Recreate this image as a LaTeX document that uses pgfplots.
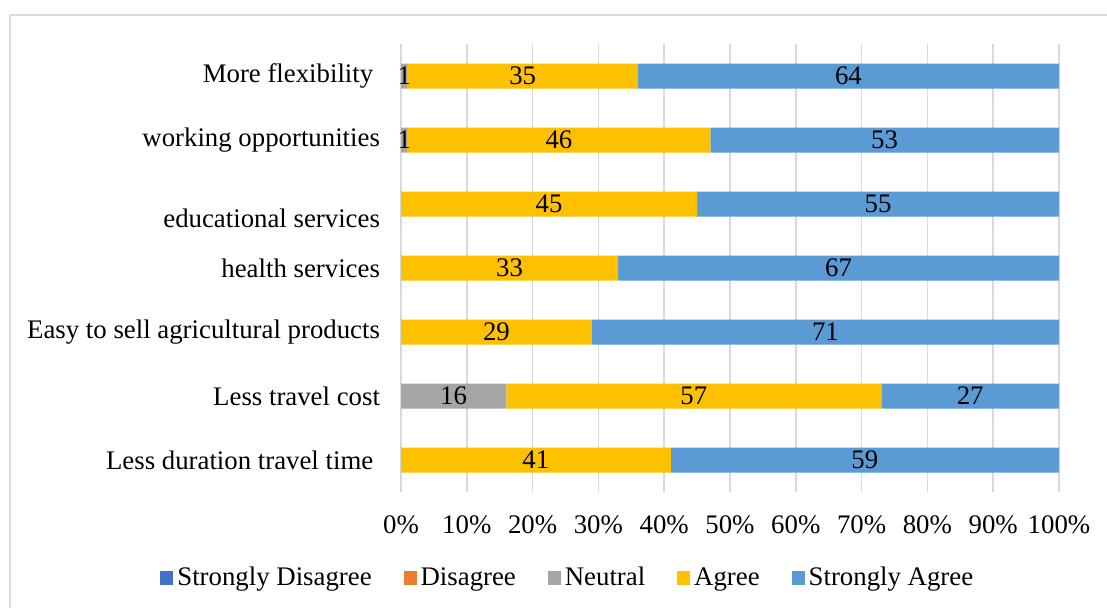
\documentclass[border=0pt]{standalone}
\usepackage{pgfplots}
\pgfplotsset{compat=1.18}
\usepackage{pgfplotstable}
\usepackage{fontspec}
\setmainfont{Liberation Serif}
\definecolor{cSD}{HTML}{4472C4}
\definecolor{cD}{HTML}{ED7D31}
\definecolor{cN}{HTML}{A5A5A5}
\definecolor{cA}{HTML}{FFC000}
\definecolor{cSA}{HTML}{5B9BD5}
\definecolor{gridc}{HTML}{D9D9D9}
\newcommand\lfont{\fontsize{13.4}{15}\selectfont}
\pgfplotstableread{
y sd d neutral agree sagree
0 0 0 0 41 59
1 0 0 16 57 27
2 0 0 0 29 71
3 0 0 0 33 67
4 0 0 0 45 55
5 0 0 1 46 53
6 0 0 1 35 64
}\datatable
\begin{document}
\begin{tikzpicture}
\path[use as bounding box] (0,0) rectangle (553.5pt,303.5pt);
\draw[gridc, line width=0.8pt] (5pt,-20pt) -- (5pt,296pt) -- (600pt,296pt);
\begin{axis}[
  at={(200.5pt,57.5pt)}, anchor=south west,
  scale only axis, width=329pt, height=224pt,
  xbar stacked, bar width=12.5pt,
  xmin=0, xmax=100, ymin=-0.5, ymax=6.5,
  xtick={0,10,...,100},
  xticklabel={\pgfmathprintnumber{\tick}\%},
  ytick={0,...,6},
  yticklabels={Less duration travel time\ \ ,Less travel cost,Easy to sell agricultural products,health services,\raisebox{-7pt}[\height][\depth]{educational services},working opportunities,More flexibility\ \ },
  /pgf/number format/assume math mode=true,
  font=\lfont,
  tick label style={font=\lfont},
  xticklabel style={yshift=-8.5pt},
  yticklabel style={xshift=-7pt},
  major tick length=0pt,
  axis x line*=bottom,
  x axis line style={draw=none},
  axis y line*=left,
  y axis line style={gridc, line width=0.8pt, -},
  xmajorgrids, grid style={gridc, line width=0.8pt},
  every axis plot/.append style={draw=none},
  legend columns=5,
  legend style={draw=none, at={(0.255,-0.192)}, anchor=center, font=\lfont,
    /tikz/every even column/.append style={column sep=14pt}},
  legend image code/.code={\fill[#1] (0pt,-3.3pt) rectangle (6.5pt,3.3pt);},
  nodes near coords={\pgfmathfloatifflags{\pgfplotspointmeta}{0}{}{\pgfmathprintnumber{\pgfplotspointmeta}}},
  every node near coord/.style={anchor=center, font=\lfont, black},
  point meta=explicit,
]
\addplot+[fill=cSD, nodes near coords={}] table[x=sd, y=y] {\datatable};
\addplot+[fill=cD, nodes near coords={}] table[x=d, y=y] {\datatable};
\addplot+[fill=cN] table[x=neutral, y=y, meta=neutral] {\datatable};
\addplot+[fill=cA] table[x=agree, y=y, meta=agree] {\datatable};
\addplot+[fill=cSA] table[x=sagree, y=y, meta=sagree] {\datatable};
\legend{Strongly Disagree,Disagree,Neutral,Agree,Strongly Agree}
\end{axis}
\end{tikzpicture}
\end{document}
